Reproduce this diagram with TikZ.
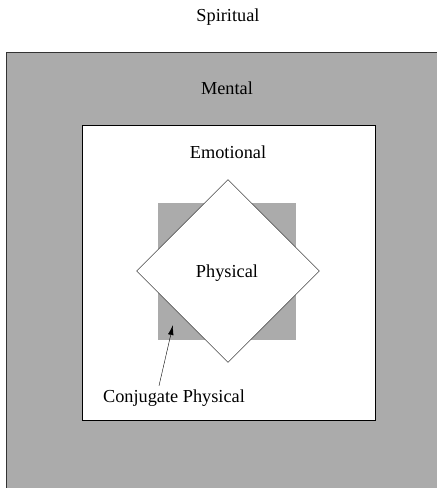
\documentclass[tikz,border=0pt]{standalone}
\usepackage{fontspec}
\setmainfont{Liberation Serif}
\usetikzlibrary{arrows.meta,shapes.geometric}

\begin{document}
\begin{tikzpicture}[x=1pt,y=-1pt,font=\fontsize{18.3}{22}\selectfont]
\useasboundingbox (0,0) rectangle (437,488);
\fill[black!33] (6,52) rectangle (437,488);
\draw[black!80] (437,52) -- (6,52) -- (6,488);
\draw[fill=white] (82,125) rectangle (375,420);
\fill[black!33] (158,203) rectangle (296,340);
\node[diamond,draw,fill=white,minimum size=183pt,inner sep=0pt] (phys) at (228,271) {};
\node[anchor=base] (spirit) at (228,21.7) {Spiritual};
\node[anchor=base] (mental) at (227,94) {Mental};
\node[anchor=base] (emot) at (228,158) {Emotional};
\node[anchor=base] (physlab) at (227,277) {Physical};
\node[anchor=base] (conj) at (174,402) {Conjugate Physical};
\coordinate (tip) at (173,325);
\draw[-{Latex[length=10pt,width=5.5pt]}] ([xshift=-15pt]conj.north) -- (tip);
\end{tikzpicture}
\end{document}
